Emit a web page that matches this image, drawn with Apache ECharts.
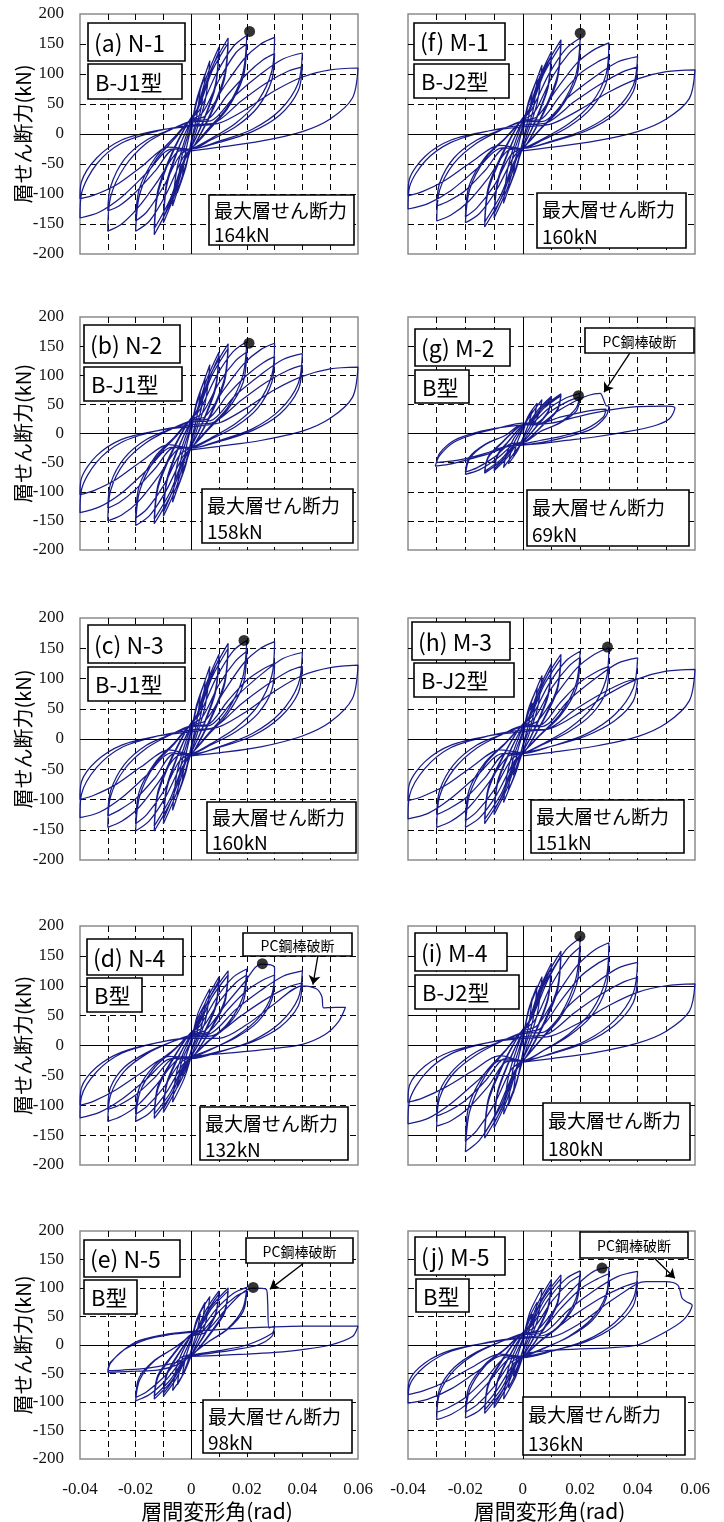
<!DOCTYPE html>
<html>
<head>
<meta charset="utf-8">
<title>層せん断力－層間変形角関係</title>
<script src="https://cdn.jsdelivr.net/npm/echarts@6.0.0/dist/echarts.min.js"></script>
<style>
html, body { margin: 0; padding: 0; background: #fff; }
#chart { width: 724px; height: 1522px; }
</style>
</head>
<body>
<div id="chart"></div>
<script>
// 載荷履歴 (層間変形角, rad)
var driftBase = [
    0,
    .0015, .0033, .002, 0, -.0015, -.0033, -.002, 0,
    .002, .005, .0035, 0, -.002, -.005, -.0035, 0,
    .0025, .0067, .005, .0005, -.0025, -.0067, -.005, -.0005,
    .002, .0055, .01, .0088, .005, .0005, -.002, -.0055, -.01, -.0088, -.005, -.0005,
    .0025, .006, .01, .0088, .005, .0005, -.0025, -.006, -.01, -.0088, -.005, -.0005,
    .0025, .007, .0133, .012, .007, .001, -.0025, -.007, -.0133, -.012, -.007, -.001,
    .003, .0075, .0133, .012, .007, .001, -.003, -.0075, -.0133, -.012, -.007, -.001,
    .003, .009, .015, .02, .0185, .013, .006, .0005, -.003, -.009, -.015, -.02, -.0185, -.013, -.006, -.0005,
    .004, .01, .016, .02, .0187, .013, .006, .0005, -.004, -.01, -.016, -.02, -.0187, -.013, -.006, -.0005
]
var driftLarge = [
    .005, .012, .019, .025, .03, .029, .024, .016, .007, 0, -.005, -.012, -.019, -.025, -.03, -.029, -.024, -.016, -.007, 0,
    .006, .013, .02, .026, .03, .029, .024, .016, .007, 0, -.006, -.013, -.02, -.026, -.03, -.029, -.024, -.016, -.007, 0,
    .007, .016, .025, .033, .04, .0385, .032, .022, .01, 0, -.007, -.016, -.025, -.033, -.04, -.0395, -.034, -.025, -.012, 0,
    .008, .018, .027, .035, .04, .0385, .032, .022, .01, 0, -.008, -.018, -.027, -.035, -.04, -.0395, -.034, -.025, -.012, 0
]
var driftFinal = [.01, .02, .03, .04, .05, .06, .058, .05, .04, .025, .01, 0]
var driftTailN4 = [.01, .02, .03, .04, .045, .047, .0476, .052, .0555, .053, .048, .04, .03, .02, .01, 0]
var driftTailM5 = [.01, .02, .03, .04, .043, .0496, .054, .0555, .057, .059, .056, .049, .04, .03, .02, .01, 0]
var driftTailN5 = [
    .005, .012, .018, .022, .027, .0275, .028, .03, .029, .024, .016, .008, 0,
    -.005, -.012, -.02, -.026, -.03, -.029, -.024, -.016, -.008, 0,
    .005, .012, .02, .03, .029, .02, .01, 0,
    -.005, -.015, -.025, -.03, -.029, -.02, -.01, 0,
    .01, .02, .03, .04, .05, .06, .058, .05, .04, .03, .02, .01, 0
]
var driftTailM2 = [
    .005, .012, .018, .022, .025, .027, .028, .029, .03, .029, .024, .016, .008, 0,
    -.005, -.012, -.02, -.026, -.0305, -.029, -.024, -.016, -.008, 0,
    .006, .013, .02, .026, .029, .028, .022, .014, .006, 0,
    -.006, -.013, -.02, -.026, -.03, -.029, -.024, -.016, -.008, 0,
    .01, .02, .03, .04, .05, .053, .051, .045, .035, .025, .015, .005, 0
]

// 層せん断力 (kN)
var shearN1 = [
    0,
    45, 75, 30, -12, -45, -75, -30, 12,
    58, 100, 42, -15, -57, -98, -40, 15,
    62, 122, 55, -15, -60, -120, -55, 15,
    40, 95, 145, 85, 30, -18, -40, -96, -148, -86, -30, 18,
    42, 92, 138, 80, 28, -18, -42, -92, -140, -80, -28, 18,
    45, 106, 160, 98, 35, -20, -45, -110, -168, -100, -35, 20,
    48, 105, 152, 92, 32, -20, -48, -108, -158, -94, -32, 20,
    40, 100, 145, 164, 100, 45, 8, -22, -40, -100, -145, -162, -100, -45, -8, 22,
    35, 90, 135, 150, 95, 42, 5, -22, -35, -88, -130, -145, -92, -40, -5, 22,
    30, 80, 125, 150, 161, 105, 55, 18, -8, -25, -30, -78, -122, -150, -162, -105, -55, -15, 8, 22,
    25, 65, 100, 124, 134, 90, 45, 12, -10, -25, -25, -62, -97, -120, -128, -88, -42, -10, 8, 20,
    22, 65, 100, 125, 135, 85, 40, 8, -12, -25, -25, -65, -105, -130, -140, -100, -50, -15, 5, 15,
    18, 55, 85, 105, 112, 72, 32, 4, -14, -25, -22, -55, -85, -102, -108, -80, -40, -10, 6, 13,
    18, 42, 72, 95, 107, 110, 60, 25, 4, -12, -22, -28
]
var shearN2 = [
    0,
    42, 70, 28, -12, -42, -70, -28, 12,
    55, 95, 40, -15, -55, -95, -40, 15,
    60, 118, 52, -15, -60, -118, -52, 15,
    39, 92, 140, 82, 30, -18, -40, -94, -142, -84, -30, 18,
    41, 89, 133, 77, 28, -18, -42, -90, -135, -79, -28, 18,
    43, 102, 154, 95, 34, -20, -43, -102, -155, -95, -34, 20,
    46, 100, 146, 89, 31, -20, -46, -100, -147, -89, -31, 20,
    40, 98, 140, 158, 98, 44, 8, -22, -40, -98, -141, -158, -98, -44, -8, 22,
    35, 87, 125, 140, 88, 40, 6, -22, -36, -90, -130, -145, -90, -40, -6, 22,
    29, 77, 120, 144, 155, 100, 52, 17, -8, -24, -28, -75, -117, -140, -150, -98, -50, -15, 8, 22,
    25, 66, 100, 122, 132, 88, 44, 12, -10, -24, -24, -60, -96, -119, -128, -86, -42, -10, 8, 20,
    22, 66, 101, 127, 137, 86, 41, 8, -12, -25, -24, -63, -102, -126, -136, -97, -49, -15, 5, 15,
    19, 57, 88, 109, 117, 75, 34, 5, -14, -25, -19, -48, -79, -98, -105, -77, -38, -10, 5, 12,
    18, 44, 75, 98, 111, 114, 62, 26, 4, -12, -22, -28
]
var shearN3 = [
    0,
    44, 72, 29, -12, -43, -72, -28, 12,
    57, 96, 41, -15, -56, -95, -40, 15,
    61, 120, 54, -15, -60, -118, -53, 15,
    39, 92, 140, 83, 30, -18, -39, -92, -140, -83, -30, 18,
    41, 89, 133, 78, 28, -18, -41, -88, -133, -78, -28, 18,
    44, 104, 158, 95, 35, -20, -42, -100, -152, -92, -33, 20,
    47, 102, 150, 90, 32, -20, -45, -98, -144, -87, -30, 20,
    41, 101, 145, 163, 101, 46, 8, -22, -38, -94, -135, -152, -94, -42, -8, 22,
    36, 90, 129, 145, 90, 41, 6, -22, -35, -87, -125, -140, -87, -39, -6, 22,
    30, 80, 126, 150, 161, 105, 55, 18, -8, -25, -28, -73, -114, -136, -146, -95, -50, -15, 8, 22,
    24, 62, 97, 116, 125, 81, 42, 12, -10, -24, -24, -64, -99, -118, -127, -86, -42, -10, 8, 20,
    23, 69, 106, 133, 143, 90, 43, 9, -13, -26, -23, -60, -97, -121, -130, -92, -47, -14, 5, 15,
    19, 58, 89, 112, 120, 76, 36, 5, -14, -25, -18, -46, -75, -93, -100, -71, -36, -10, 5, 12,
    20, 46, 79, 105, 118, 122, 67, 28, 5, -13, -23, -28
]
var shearN4 = [
    0,
    30, 50, 20, -8, -30, -50, -20, 8,
    42, 70, 28, -10, -42, -70, -28, 10,
    55, 95, 40, -12, -55, -95, -40, 12,
    32, 76, 115, 68, 25, -15, -31, -74, -112, -66, -24, 15,
    34, 74, 109, 64, 23, -15, -33, -72, -106, -62, -22, 15,
    35, 83, 125, 75, 28, -17, -34, -81, -122, -73, -27, 17,
    37, 81, 118, 70, 26, -17, -36, -79, -115, -68, -25, 17,
    32, 79, 114, 128, 80, 36, 7, -18, -32, -79, -113, -127, -79, -36, -7, 18,
    30, 73, 105, 118, 73, 33, 6, -18, -29, -71, -102, -115, -71, -32, -6, 18,
    25, 66, 105, 136, 130, 85, 45, 15, -7, -20, -24, -63, -99, -118, -127, -83, -43, -14, 6, 18,
    22, 59, 92, 110, 118, 77, 40, 13, -6, -18, -20, -53, -83, -100, -107, -70, -36, -12, 6, 16,
    20, 60, 92, 116, 125, 79, 38, 8, -11, -22, -22, -56, -90, -112, -121, -86, -44, -13, 5, 14,
    17, 50, 78, 98, 105, 66, 31, 6, -10, -20, -18, -46, -74, -93, -100, -71, -36, -11, 5, 12,
    12, 35, 70, 100, 95, 82, 63, 64, 64, 40, 18, 2, -5, -10, -14, -18
]
var shearN5 = [
    0,
    33, 55, 22, -9, -33, -55, -22, 9,
    45, 75, 30, -12, -42, -70, -28, 12,
    50, 85, 36, -13, -48, -80, -34, 13,
    27, 63, 95, 56, 21, -14, -26, -60, -90, -53, -20, 14,
    28, 61, 90, 53, 19, -14, -28, -58, -85, -50, -18, 14,
    28, 66, 100, 60, 22, -15, -27, -63, -95, -57, -21, 15,
    30, 65, 95, 56, 20, -15, -29, -61, -90, -53, -19, 15,
    25, 63, 90, 101, 63, 28, 5, -15, -25, -61, -87, -98, -61, -27, -5, 15,
    24, 59, 85, 95, 59, 27, 5, -15, -23, -57, -82, -92, -57, -26, -5, 15,
    22, 60, 90, 100, 98, 75, 30, 33, 15, 0, -8, -14, -20,
    -35, -44, -46, -47, -48, -32, -8, 10, 18, 22,
    25, 28, 30, 32, 20, 0, -10, -18,
    -30, -40, -44, -45, -30, 5, 18, 24,
    27, 30, 32, 33, 33, 33, 15, 0, -8, -13, -16, -18, -20
]
var shearM1 = [
    0,
    42, 70, 28, -11, -42, -70, -28, 11,
    54, 92, 38, -14, -54, -92, -38, 14,
    58, 115, 52, -15, -58, -115, -52, 15,
    38, 91, 138, 81, 30, -18, -39, -92, -140, -83, -30, 18,
    40, 88, 131, 77, 28, -18, -41, -89, -133, -78, -28, 18,
    44, 104, 157, 96, 35, -20, -43, -102, -155, -94, -34, 20,
    47, 102, 149, 90, 32, -20, -46, -100, -147, -88, -31, 20,
    40, 99, 142, 160, 99, 45, 8, -21, -37, -92, -132, -148, -92, -41, -7, 21,
    36, 93, 134, 150, 93, 42, 7, -21, -34, -86, -123, -138, -86, -38, -6, 21,
    29, 76, 119, 141, 152, 99, 52, 17, -8, -24, -27, -73, -113, -135, -145, -94, -49, -15, 8, 22,
    24, 64, 101, 120, 129, 84, 44, 12, -10, -24, -23, -60, -94, -112, -120, -82, -40, -10, 8, 20,
    21, 62, 95, 120, 129, 81, 39, 8, -12, -24, -23, -58, -94, -116, -125, -89, -45, -14, 5, 15,
    18, 54, 83, 104, 112, 71, 33, 5, -13, -24, -19, -47, -77, -96, -103, -75, -37, -10, 5, 12,
    17, 41, 70, 92, 104, 107, 59, 25, 4, -12, -22, -28
]
var shearM2 = [
    0,
    24, 40, 16, -8, -24, -40, -16, 8,
    31, 52, 21, -10, -31, -52, -21, 10,
    30, 58, 26, -10, -30, -58, -26, 10,
    18, 42, 64, 38, 14, -12, -18, -42, -64, -38, -14, 12,
    19, 41, 61, 36, 13, -12, -19, -41, -61, -36, -13, 12,
    19, 45, 68, 41, 15, -13, -19, -45, -68, -41, -15, 13,
    20, 44, 65, 39, 14, -13, -20, -44, -65, -39, -14, 13,
    17, 43, 61, 69, 43, 19, 3, -15, -18, -43, -62, -70, -43, -19, -3, 15,
    16, 39, 56, 63, 39, 18, 3, -15, -17, -41, -59, -66, -41, -18, -3, 15,
    15, 38, 55, 64, 68, 69, 60, 48, 47, 30, 8, -5, -14, -20,
    -22, -35, -46, -53, -56, -38, -15, 0, 10, 18,
    18, 28, 36, 41, 42, 28, 8, -4, -12, -18,
    -22, -34, -43, -48, -50, -34, -12, 2, 10, 15,
    18, 30, 40, 46, 47, 44, 25, 12, 2, -6, -12, -18, -20
]
var shearM3 = [
    0,
    36, 60, 24, -10, -36, -60, -24, 10,
    50, 85, 35, -13, -50, -85, -35, 13,
    55, 105, 48, -14, -55, -105, -48, 14,
    35, 82, 125, 74, 27, -17, -35, -82, -125, -74, -27, 17,
    37, 80, 119, 70, 25, -17, -37, -80, -119, -70, -25, 17,
    39, 92, 140, 85, 31, -19, -39, -92, -140, -85, -31, 19,
    41, 90, 133, 80, 29, -19, -41, -90, -133, -80, -29, 19,
    36, 90, 129, 145, 90, 41, 7, -20, -37, -91, -130, -146, -91, -41, -7, 20,
    34, 84, 120, 135, 84, 38, 6, -20, -34, -84, -120, -135, -84, -38, -6, 20,
    29, 76, 118, 140, 151, 98, 51, 17, -8, -24, -28, -73, -114, -136, -146, -95, -50, -15, 8, 22,
    23, 60, 94, 112, 120, 78, 41, 12, -9, -23, -24, -63, -98, -116, -125, -85, -42, -10, 8, 20,
    21, 64, 99, 125, 134, 84, 40, 8, -12, -24, -24, -61, -98, -123, -132, -94, -48, -14, 5, 15,
    16, 48, 74, 93, 100, 63, 30, 5, -12, -22, -18, -47, -77, -95, -102, -74, -37, -10, 5, 12,
    18, 44, 75, 99, 112, 115, 63, 26, 4, -12, -22, -28
]
var shearM4 = [
    0,
    48, 80, 32, -12, -48, -80, -32, 12,
    60, 100, 42, -15, -60, -100, -42, 15,
    65, 115, 52, -16, -65, -115, -52, 16,
    39, 91, 138, 81, 30, -18, -39, -91, -138, -81, -30, 18,
    41, 89, 131, 77, 28, -18, -41, -89, -131, -77, -28, 18,
    44, 104, 158, 96, 35, -20, -43, -102, -155, -94, -34, 20,
    47, 102, 150, 90, 32, -20, -46, -100, -147, -89, -31, 20,
    45, 112, 160, 180, 112, 50, 9, -23, -44, -110, -158, -178, -110, -50, -9, 23,
    41, 102, 147, 165, 102, 46, 8, -23, -40, -99, -142, -160, -99, -45, -8, 23,
    33, 86, 134, 160, 172, 112, 58, 19, -9, -26, -26, -68, -105, -126, -135, -88, -46, -15, 8, 22,
    28, 73, 115, 137, 147, 96, 50, 16, -9, -25, -22, -59, -92, -110, -118, -77, -40, -10, 8, 20,
    22, 67, 103, 129, 139, 88, 42, 8, -13, -26, -24, -60, -97, -122, -131, -93, -47, -14, 5, 15,
    18, 55, 85, 106, 114, 72, 34, 5, -14, -25, -17, -44, -70, -88, -95, -67, -34, -10, 5, 12,
    16, 39, 67, 89, 100, 103, 57, 24, 4, -12, -22, -28
]
var shearM5 = [
    0,
    33, 55, 22, -9, -33, -55, -22, 9,
    45, 75, 30, -12, -45, -75, -30, 12,
    58, 100, 42, -14, -56, -95, -40, 14,
    32, 76, 115, 68, 25, -16, -31, -73, -110, -65, -24, 16,
    34, 74, 109, 64, 23, -16, -33, -71, -105, -62, -22, 16,
    34, 81, 123, 74, 27, -17, -34, -79, -120, -71, -26, 17,
    36, 79, 117, 70, 25, -17, -36, -77, -114, -67, -24, 17,
    33, 81, 116, 130, 81, 36, 7, -19, -32, -79, -114, -128, -79, -36, -7, 19,
    31, 76, 109, 122, 76, 34, 6, -19, -30, -73, -105, -118, -73, -33, -6, 19,
    26, 68, 106, 130, 136, 88, 46, 15, -7, -21, -25, -66, -102, -122, -131, -85, -45, -14, 7, 20,
    24, 63, 98, 116, 125, 81, 42, 14, -6, -19, -22, -59, -92, -110, -118, -77, -40, -12, 7, 18,
    21, 62, 96, 120, 129, 81, 39, 8, -11, -22, -18, -47, -77, -95, -102, -72, -37, -11, 5, 14,
    18, 53, 82, 102, 110, 69, 33, 6, -10, -20, -16, -40, -65, -81, -87, -62, -31, -9, 4, 12,
    14, 38, 75, 108, 111, 111, 105, 82, 76, 70, 44, 21, 0, -5, -7, -9, -15
]

// 最大層せん断力の位置 (rad, kN)
var peakN1 = [0.021, 171]
var peakN2 = [0.0208, 155]
var peakN3 = [0.019, 163]
var peakN4 = [0.0256, 137]
var peakN5 = [0.0223, 101]
var peakM1 = [0.02, 168]
var peakM2 = [0.0194, 65]
var peakM3 = [0.0295, 152]
var peakM4 = [0.0199, 183]
var peakM5 = [0.0276, 135]

var panelLabels = ['(a) N-1', '(b) N-2', '(c) N-3', '(d) N-4', '(e) N-5', '(f) M-1', '(g) M-2', '(h) M-3', '(i) M-4', '(j) M-5']
var jointTypes = ['B-J1型', 'B-J1型', 'B-J1型', 'B型', 'B型', 'B-J2型', 'B型', 'B-J2型', 'B-J2型', 'B型']
var maxShear = ['164kN', '158kN', '160kN', '132kN', '98kN', '160kN', '69kN', '151kN', '180kN', '136kN']
var xTickLabels = ['-0.04', '', '-0.02', '', '0', '', '0.02', '', '0.04', '', '0.06']
var yTickLabels = ['-200', '-150', '-100', '-50', '0', '50', '100', '150', '200']

var driftStd = driftBase.concat(driftLarge, driftFinal)
var specimens = [
    { drift: driftStd, shear: shearN1, peak: peakN1 },
    { drift: driftStd, shear: shearN2, peak: peakN2 },
    { drift: driftStd, shear: shearN3, peak: peakN3 },
    { drift: driftBase.concat(driftLarge, driftTailN4), shear: shearN4, peak: peakN4 },
    { drift: driftBase.concat(driftTailN5), shear: shearN5, peak: peakN5 },
    { drift: driftStd, shear: shearM1, peak: peakM1 },
    { drift: driftBase.concat(driftTailM2), shear: shearM2, peak: peakM2 },
    { drift: driftStd, shear: shearM3, peak: peakM3 },
    { drift: driftStd, shear: shearM4, peak: peakM4 },
    { drift: driftBase.concat(driftLarge, driftTailM5), shear: shearM5, peak: peakM5 }
]

// レイアウト
var colLeft = [80, 408]
var colWidth = [278, 287]
var rowTop = [14, 317, 618, 926, 1231]
var rowHeight = [240, 233, 242, 239, 228]
// [x, y, w, h]
var labelBox = [[88, 23, 97, 38], [84, 325, 96, 38], [88, 625, 97, 38], [87, 939, 96, 36], [84, 1240, 96, 37],
    [414, 23, 91, 37], [415, 329, 95, 37], [412, 622, 98, 38], [415, 933, 92, 38], [415, 1237, 90, 38]]
var typeBox = [[88, 64, 94, 35], [84, 367, 98, 34], [88, 667, 97, 34], [87, 978, 55, 34], [84, 1280, 53, 34],
    [414, 64, 95, 34], [415, 370, 54, 33], [414, 663, 100, 34], [415, 975, 104, 34], [416, 1279, 53, 33]]
var maxBox = [[209, 195, 145, 50], [202, 489, 151, 54], [207, 802, 149, 51], [200, 1107, 148, 53], [203, 1400, 149, 53],
    [537, 193, 149, 55], [527, 490, 162, 56], [531, 800, 153, 53], [543, 1103, 147, 57], [523, 1397, 162, 58]]
var pcBox = { 3: [243, 933, 109, 23], 4: [246, 1238, 107, 25], 6: [585, 328, 109, 25], 9: [580, 1232, 108, 26] }
var pcArrow = {
    3: [[0.0456, 151], [0.0438, 102]],
    4: [[0.0403, 143], [0.0283, 98]],
    6: [[0.0373, 138], [0.0283, 71]],
    9: [[0.0457, 153], [0.053, 117]]
}

var jpFont = '"Noto Sans CJK JP", sans-serif'
var numFont = 'Liberation Serif'
var lineColor = '#1a1d8c'

function pairs (xs, ys) {
    var n = Math.min(xs.length, ys.length)
    var out = []
    for (var i = 0; i < n; i++) out.push([xs[i], ys[i]])
    return out
}

function boxRect (b) {
    return {
        type: 'rect', z: 100,
        shape: { x: b[0], y: b[1], width: b[2], height: b[3] },
        style: { fill: '#fff', stroke: '#000', lineWidth: 1.6 }
    }
}

function boxText (x, y, text, size, align) {
    return {
        type: 'text', z: 101, x: x, y: y,
        style: {
            text: text, fill: '#000', font: size + 'px ' + jpFont,
            textAlign: align || 'left', textVerticalAlign: 'middle'
        }
    }
}

var tickText = {
    color: '#111',
    rich: { n: { fontFamily: numFont, fontSize: 17, color: '#111' } }
}

var grids = [], xAxes = [], yAxes = [], series = [], graphics = []

specimens.forEach(function (sp, i) {
    var col = i < 5 ? 0 : 1
    var row = i % 5
    grids.push({
        left: colLeft[col], top: rowTop[row], width: colWidth[col], height: rowHeight[row],
        show: true, borderColor: '#8c8c8c', borderWidth: 1.5, backgroundColor: 'transparent'
    })
    xAxes.push({
        gridIndex: i, type: 'value', min: -0.04, max: 0.06, interval: 0.01,
        axisLine: { show: false }, axisTick: { show: false },
        axisLabel: {
            show: row === 4, margin: 22, fontFamily: numFont, fontSize: 17, color: '#111',
            rich: tickText.rich,
            formatter: function (v, idx) { return xTickLabels[idx] ? '{n|' + xTickLabels[idx] + '}' : '' }
        },
        splitLine: { show: true, showMinLine: false, showMaxLine: false, lineStyle: { color: '#000', width: 1, type: [6, 4] } }
    })
    yAxes.push({
        gridIndex: i, type: 'value', min: -200, max: 200, interval: 50,
        axisLine: { show: false }, axisTick: { show: false },
        axisLabel: {
            show: col === 0, margin: 16, fontFamily: numFont, fontSize: 17, color: '#111',
            rich: tickText.rich,
            formatter: function (v, idx) { return '{n|' + yTickLabels[idx] + '}' }
        },
        splitLine: {
            show: true, showMinLine: false, showMaxLine: false,
            lineStyle: { color: '#000', width: 1, type: i === 8 ? 'solid' : [6, 4] }
        }
    })
    // 原点を通る実線
    series.push({
        type: 'line', xAxisIndex: i, yAxisIndex: i, data: [], z: 1,
        markLine: {
            silent: true, symbol: 'none', label: { show: false },
            lineStyle: { color: '#000', width: 1, type: 'solid' },
            data: [{ xAxis: 0 }, { yAxis: 0 }]
        }
    })
    series.push({
        type: 'line', xAxisIndex: i, yAxisIndex: i, z: 3,
        data: pairs(sp.drift, sp.shear),
        showSymbol: false, smooth: 0.3, silent: true,
        lineStyle: { color: lineColor, width: 1.25 }
    })
    var dot = {
        type: 'scatter', xAxisIndex: i, yAxisIndex: i, z: 4,
        data: [sp.peak], symbolSize: 11, silent: true,
        itemStyle: { color: '#000' }
    }
    if (pcArrow[i]) {
        dot.markLine = {
            silent: true, symbol: ['none', 'arrow'], symbolSize: 9, label: { show: false },
            lineStyle: { color: '#000', width: 1.3, type: 'solid' },
            data: [[{ coord: pcArrow[i][0] }, { coord: pcArrow[i][1] }]]
        }
    }
    series.push(dot)

    var lb = labelBox[i], tb = typeBox[i], mb = maxBox[i]
    graphics.push(boxRect(lb), boxText(lb[0] + 6, lb[1] + lb[3] / 2 + 1, panelLabels[i], 23))
    graphics.push(boxRect(tb), boxText(tb[0] + 7, tb[1] + tb[3] / 2 + 1, jointTypes[i], 22))
    graphics.push(boxRect(mb),
        boxText(mb[0] + 5, mb[1] + mb[3] * 0.31, '最大層せん断力', 19),
        boxText(mb[0] + 5, mb[1] + mb[3] * 0.8, maxShear[i], 19))
    if (pcBox[i]) {
        var pb = pcBox[i]
        graphics.push(boxRect(pb), boxText(pb[0] + pb[2] / 2, pb[1] + pb[3] / 2 + 1, 'PC鋼棒破断', 14, 'center'))
    }
    if (col === 0) {
        graphics.push({
            type: 'text', z: 101, x: 23, y: rowTop[row] + rowHeight[row] / 2, rotation: Math.PI / 2,
            style: {
                text: '層せん断力(kN)', fill: '#000', font: '20px ' + jpFont,
                textAlign: 'center', textVerticalAlign: 'middle'
            }
        })
    }
    if (row === 4) {
        graphics.push({
            type: 'text', z: 101, x: colLeft[col] + colWidth[col] / 2 - 2, y: 1511,
            style: {
                text: '層間変形角(rad)', fill: '#000', font: '21px ' + jpFont,
                textAlign: 'center', textVerticalAlign: 'middle'
            }
        })
    }
})

var myChart = echarts.init(document.getElementById('chart'))
myChart.setOption({
    animation: false,
    backgroundColor: '#fff',
    textStyle: { fontFamily: numFont },
    grid: grids,
    xAxis: xAxes,
    yAxis: yAxes,
    series: series,
    graphic: { elements: graphics }
})
</script>
</body>
</html>
